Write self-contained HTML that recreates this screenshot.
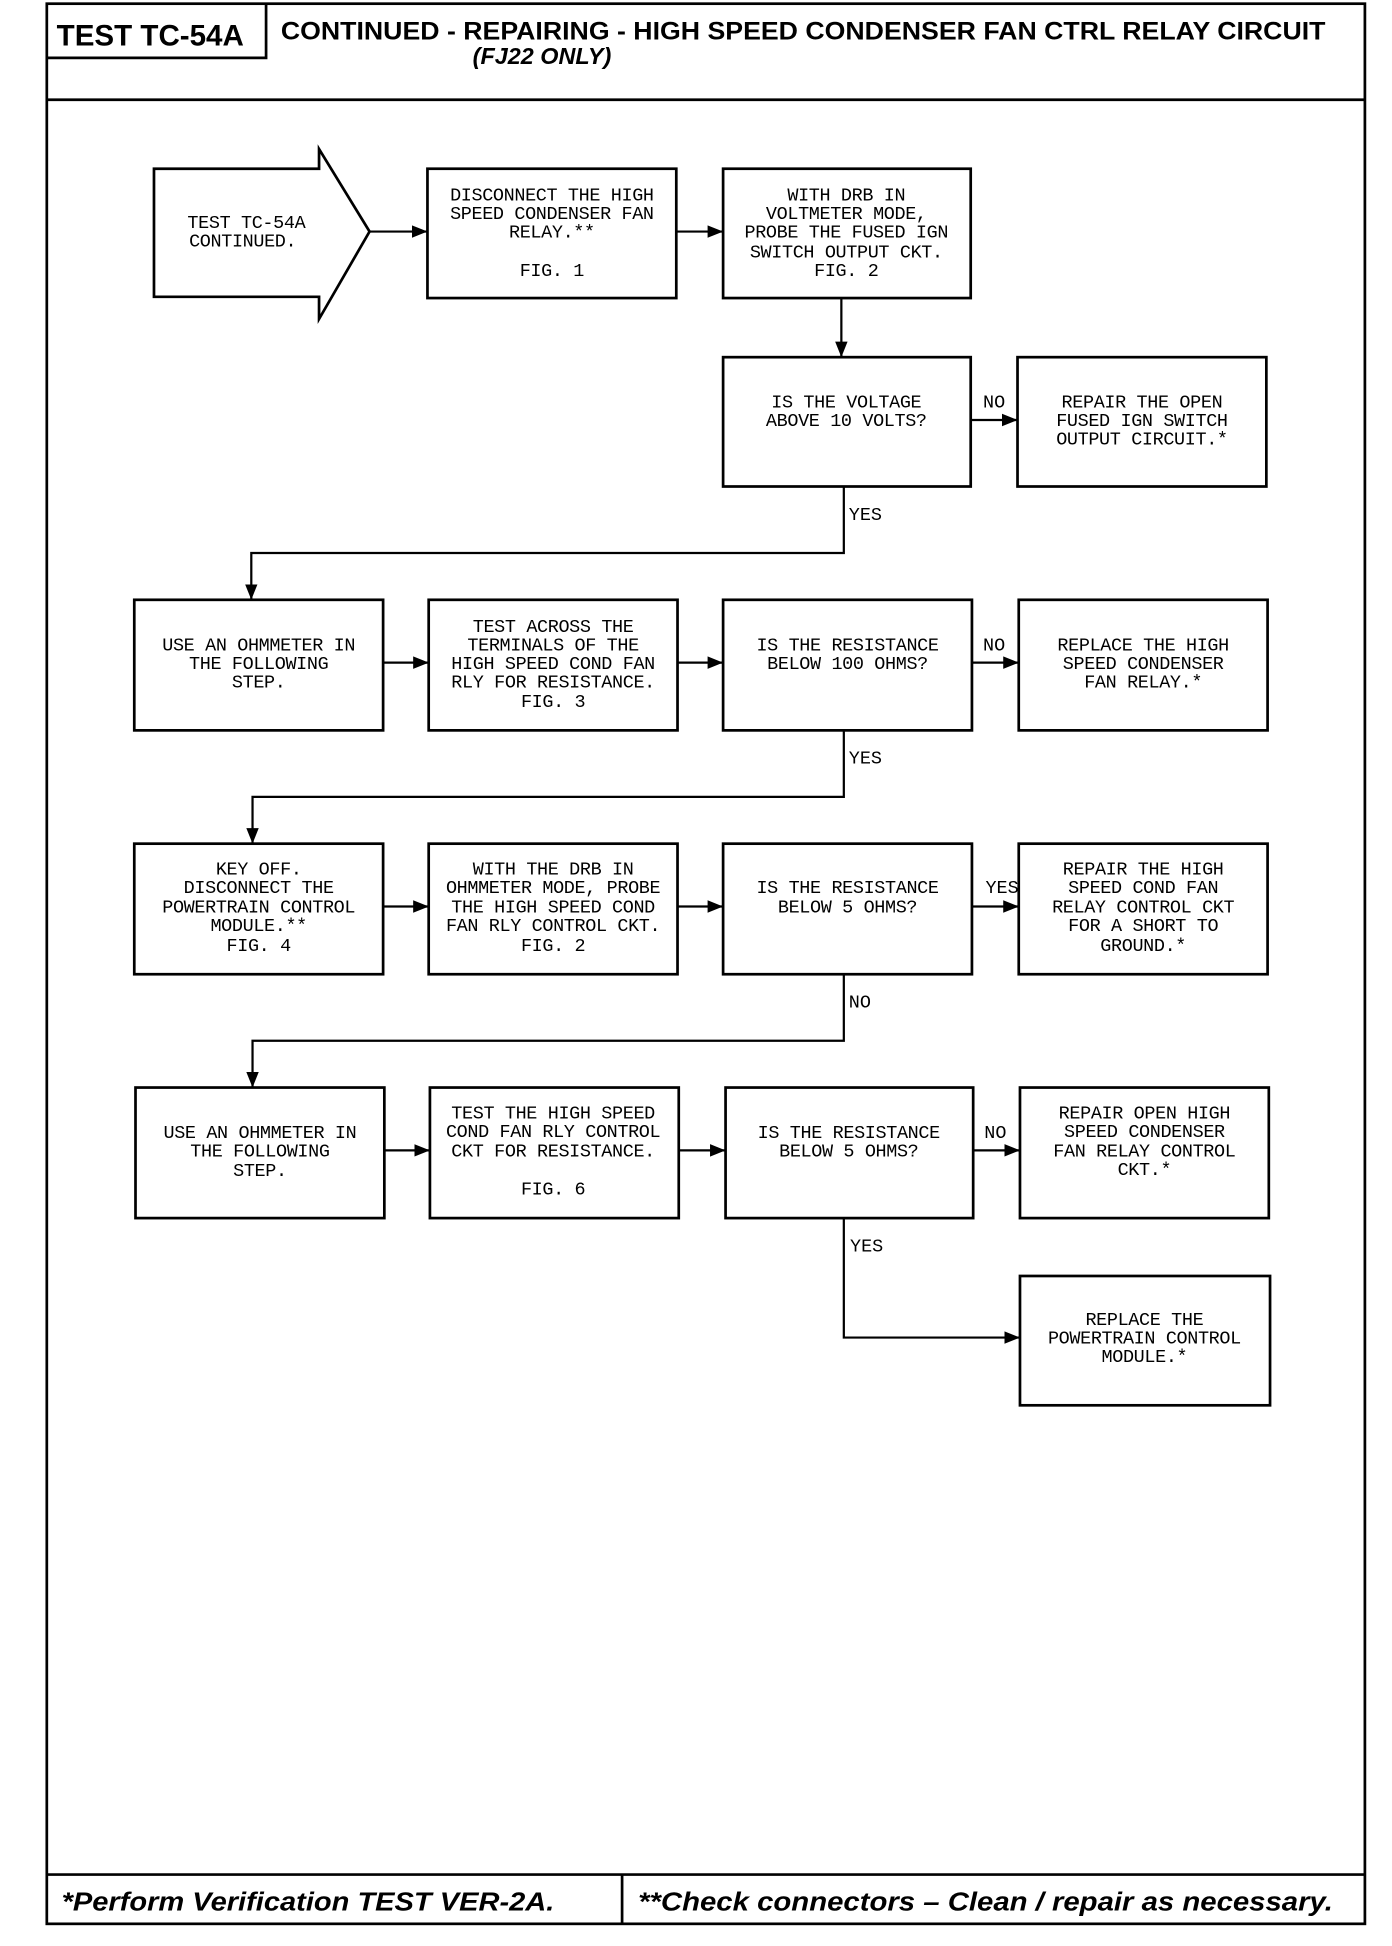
<!DOCTYPE html>
<html><head><meta charset="utf-8"><style>
html,body{margin:0;padding:0;background:#fff;}
svg{display:block;}
.t{font-family:"Liberation Mono",monospace;font-size:15px;fill:#000;text-anchor:middle;letter-spacing:-0.3px;}
.l{font-family:"Liberation Mono",monospace;font-size:15px;fill:#000;}
.h{font-family:"Liberation Sans",sans-serif;font-weight:bold;fill:#000;}
</style></head><body>
<svg width="1392" height="1946" viewBox="0 0 1130 1580" preserveAspectRatio="none" xmlns="http://www.w3.org/2000/svg">
<defs><marker id="a" viewBox="0 0 10 10" refX="10" refY="5" markerWidth="7" markerHeight="7" orient="auto"><path d="M0,1 L10,5 L0,9 z" fill="#000"/></marker></defs>
<g fill="none" stroke="#000" stroke-width="2.2">
<rect x="38" y="3" width="1070" height="1559"/>
<line x1="38" y1="81" x2="1108" y2="81"/>
<polyline points="38,47 216,47 216,3"/>
<line x1="38" y1="1522" x2="1108" y2="1522"/>
<line x1="505" y1="1522" x2="505" y2="1562"/>
<path d="M125,137 L259,137 L259,121 L300,188 L259,259 L259,241 L125,241 Z"/>
<rect x="347" y="137" width="202" height="105"/>
<rect x="587" y="137" width="201" height="105"/>
<rect x="587" y="290" width="201" height="105"/>
<rect x="826" y="290" width="202" height="105"/>
<rect x="109" y="487" width="202" height="106"/>
<rect x="348" y="487" width="202" height="106"/>
<rect x="587" y="487" width="202" height="106"/>
<rect x="827" y="487" width="202" height="106"/>
<rect x="109" y="685" width="202" height="106"/>
<rect x="348" y="685" width="202" height="106"/>
<rect x="587" y="685" width="202" height="106"/>
<rect x="827" y="685" width="202" height="106"/>
<rect x="110" y="883" width="202" height="106"/>
<rect x="349" y="883" width="202" height="106"/>
<rect x="589" y="883" width="201" height="106"/>
<rect x="828" y="883" width="202" height="106"/>
<rect x="828" y="1036" width="203" height="105"/>
</g>
<g fill="none" stroke="#000" stroke-width="1.8" marker-end="url(#a)">
<line x1="300" y1="188" x2="347" y2="188"/>
<line x1="549" y1="188" x2="587" y2="188"/>
<line x1="683" y1="242" x2="683" y2="290"/>
<line x1="788" y1="341" x2="826" y2="341"/>
<polyline points="685,395 685,449 204,449 204,487"/>
<line x1="311" y1="538" x2="348" y2="538"/>
<line x1="550" y1="538" x2="587" y2="538"/>
<line x1="789" y1="538" x2="827" y2="538"/>
<polyline points="685,593 685,647 205,647 205,685"/>
<line x1="311" y1="736" x2="348" y2="736"/>
<line x1="550" y1="736" x2="587" y2="736"/>
<line x1="789" y1="736" x2="827" y2="736"/>
<polyline points="685,791 685,845 205,845 205,883"/>
<line x1="312" y1="934" x2="349" y2="934"/>
<line x1="551" y1="934" x2="589" y2="934"/>
<line x1="790" y1="934" x2="828" y2="934"/>
<polyline points="685,989 685,1086 828,1086"/>
</g>
<text class="h" x="46" y="37" font-size="24">TEST TC-54A</text>
<text class="h" x="228" y="32" font-size="20" textLength="848" lengthAdjust="spacingAndGlyphs">CONTINUED -  REPAIRING - HIGH SPEED CONDENSER FAN CTRL RELAY CIRCUIT</text>
<text class="h" x="440" y="52" font-size="19" font-style="italic" text-anchor="middle">(FJ22 ONLY)</text>
<text class="h" x="50" y="1551" font-size="21" font-style="italic" textLength="400" lengthAdjust="spacingAndGlyphs">*Perform Verification TEST VER-2A.</text>
<text class="h" x="518" y="1551" font-size="21" font-style="italic" textLength="564" lengthAdjust="spacingAndGlyphs">**Check connectors – Clean / repair as necessary.</text>
<g class="t">
<text x="200" y="185">TEST TC-54A</text><text x="197" y="200">CONTINUED.</text>
<text x="448" y="163">DISCONNECT THE HIGH</text><text x="448" y="178">SPEED CONDENSER FAN</text><text x="448" y="193">RELAY.**</text><text x="448" y="224">FIG. 1</text>
<text x="687" y="163">WITH DRB IN</text><text x="687" y="178">VOLTMETER MODE,</text><text x="687" y="193">PROBE THE FUSED IGN</text><text x="687" y="209">SWITCH OUTPUT CKT.</text><text x="687" y="224">FIG. 2</text>
<text x="687" y="331">IS THE VOLTAGE</text><text x="687" y="346">ABOVE 10 VOLTS?</text>
<text x="927" y="331">REPAIR THE OPEN</text><text x="927" y="346">FUSED IGN SWITCH</text><text x="927" y="361">OUTPUT CIRCUIT.*</text>
<text x="210" y="528">USE AN OHMMETER IN</text><text x="210" y="543">THE FOLLOWING</text><text x="210" y="558">STEP.</text>
<text x="449" y="513">TEST ACROSS THE</text><text x="449" y="528">TERMINALS OF THE</text><text x="449" y="543">HIGH SPEED COND FAN</text><text x="449" y="558">RLY FOR RESISTANCE.</text><text x="449" y="574">FIG. 3</text>
<text x="688" y="528">IS THE RESISTANCE</text><text x="688" y="543">BELOW 100 OHMS?</text>
<text x="928" y="528">REPLACE THE HIGH</text><text x="928" y="543">SPEED CONDENSER</text><text x="928" y="558">FAN RELAY.*</text>
<text x="210" y="710">KEY OFF.</text><text x="210" y="725">DISCONNECT THE</text><text x="210" y="741">POWERTRAIN CONTROL</text><text x="210" y="756">MODULE.**</text><text x="210" y="772">FIG. 4</text>
<text x="449" y="710">WITH THE DRB IN</text><text x="449" y="725">OHMMETER MODE, PROBE</text><text x="449" y="741">THE HIGH SPEED COND</text><text x="449" y="756">FAN RLY CONTROL CKT.</text><text x="449" y="772">FIG. 2</text>
<text x="688" y="725">IS THE RESISTANCE</text><text x="688" y="741">BELOW 5 OHMS?</text>
<text x="928" y="710">REPAIR THE HIGH</text><text x="928" y="725">SPEED COND FAN</text><text x="928" y="741">RELAY CONTROL CKT</text><text x="928" y="756">FOR A SHORT TO</text><text x="928" y="772">GROUND.*</text>
<text x="211" y="924">USE AN OHMMETER IN</text><text x="211" y="939">THE FOLLOWING</text><text x="211" y="955">STEP.</text>
<text x="449" y="908">TEST THE HIGH SPEED</text><text x="449" y="923">COND FAN RLY CONTROL</text><text x="449" y="939">CKT FOR RESISTANCE.</text><text x="449" y="970">FIG. 6</text>
<text x="689" y="924">IS THE RESISTANCE</text><text x="689" y="939">BELOW 5 OHMS?</text>
<text x="929" y="908">REPAIR OPEN HIGH</text><text x="929" y="923">SPEED CONDENSER</text><text x="929" y="939">FAN RELAY CONTROL</text><text x="929" y="954">CKT.*</text>
<text x="929" y="1076">REPLACE THE</text><text x="929" y="1091">POWERTRAIN CONTROL</text><text x="929" y="1106">MODULE.*</text>
</g>
<g class="l">
<text x="798" y="331">NO</text><text x="689" y="422">YES</text>
<text x="798" y="528">NO</text><text x="689" y="620">YES</text>
<text x="800" y="725">YES</text><text x="689" y="818">NO</text>
<text x="799" y="924">NO</text><text x="690" y="1016">YES</text>
</g>
</svg>
</body></html>
